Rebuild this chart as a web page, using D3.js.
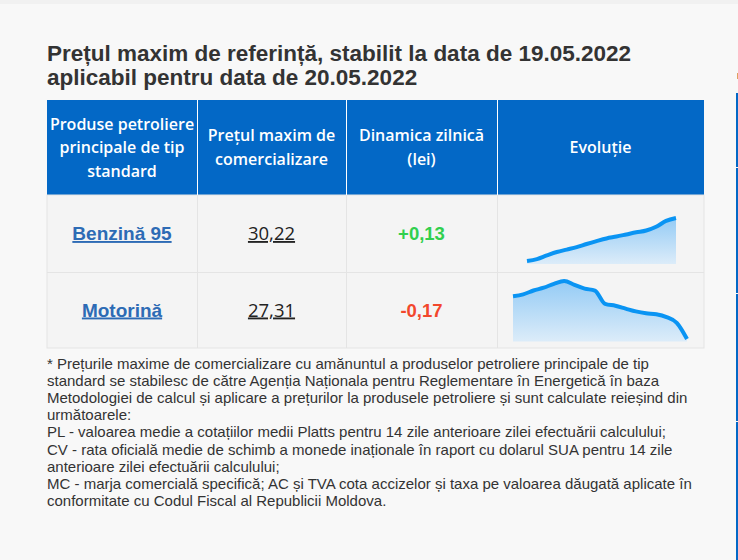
<!DOCTYPE html>
<html>
<head>
<meta charset="utf-8">
<script src="https://cdn.jsdelivr.net/npm/d3@7"></script>
<style>
  html, body { margin: 0; padding: 0; background: #f8f8f8; }
  svg { display: block; }
</style>
</head>
<body>
<svg id="chart" width="738" height="560"></svg>
<script>
// ---------- data ----------
const titleLines = [
  "Prețul maxim de referință, stabilit la data de 19.05.2022",
  "aplicabil pentru data de 20.05.2022"
];
const headers = [
  ["Produse petroliere", "principale de tip", "standard"],
  ["Prețul maxim de", "comercializare"],
  ["Dinamica zilnică", "(lei)"],
  ["Evoluție"]
];
const categories = ["Benzină 95", "Motorină"];
const prices = ["30,22", "27,31"];
const changes = ["+0,13", "-0,17"];
const benzinaSeries = [28.60, 28.67, 28.81, 28.94, 29.03, 29.12, 29.24, 29.35, 29.45, 29.52, 29.60, 29.68, 29.75, 29.89, 30.11, 30.22];
const motorinaSeries = [27.76, 27.78, 27.82, 27.85, 27.89, 27.92, 27.88, 27.84, 27.82, 27.68, 27.66, 27.63, 27.60, 27.58, 27.57, 27.54, 27.48, 27.31];
const footnoteLines = [
  "* Prețurile maxime de comercializare cu amănuntul a produselor petroliere principale de tip",
  "standard se stabilesc de către Agenția Naționala pentru Reglementare în Energetică în baza",
  "Metodologiei de calcul și aplicare a prețurilor la produsele petroliere și sunt calculate reieșind din",
  "următoarele:",
  "PL - valoarea medie a cotațiilor medii Platts pentru 14 zile anterioare zilei efectuării calculului;",
  "CV - rata oficială medie de schimb a monede inaționale în raport cu dolarul SUA pentru 14 zile",
  "anterioare zilei efectuării calculului;",
  "MC - marja comercială specifică; AC și TVA cota accizelor și taxa pe valoarea dăugată aplicate în",
  "conformitate cu Codul Fiscal al Republicii Moldova."
];

// ---------- layout ----------
const svg = d3.select("#chart");
const W = 738, H = 560;
const colEdges = [47, 197, 346, 497, 704];
const headTop = 100, headBottom = 195;
const rowEdges = [195, 272, 348];

svg.append("rect").attr("width", W).attr("height", H).attr("fill", "#f8f8f8");
svg.append("rect").attr("width", W).attr("height", 4).attr("fill", "#f1f1f1");

// right-hand blue strip (neighbouring panel)
const stripSegs = [[93, 167], [168, 293], [294, 421], [422, 560]];
svg.selectAll("rect.strip").data(stripSegs).enter().append("rect")
  .attr("x", 736).attr("width", 2)
  .attr("y", d => d[0]).attr("height", d => d[1] - d[0])
  .attr("fill", "#0368c6");
svg.append("rect").attr("x", 737).attr("y", 73).attr("width", 1).attr("height", 6).attr("fill", "#e0a060");

// title
svg.append("g").selectAll("text").data(titleLines).enter().append("text")
  .attr("x", 47).attr("y", (d, i) => 60.5 + i * 24)
  .attr("font-family", "'Liberation Sans Narrow', 'Arial Narrow', 'Liberation Sans', Arial, sans-serif")
  .attr("font-weight", "bold").attr("font-size", 22.5).attr("fill", "#333")
  .text(d => d);

// header
svg.append("rect").attr("x", colEdges[0]).attr("y", headTop)
  .attr("width", colEdges[4] - colEdges[0]).attr("height", headBottom - headTop)
  .attr("fill", "#0368c6");

// body background
svg.append("rect").attr("x", colEdges[0]).attr("y", rowEdges[0])
  .attr("width", colEdges[4] - colEdges[0]).attr("height", rowEdges[2] - rowEdges[0])
  .attr("fill", "#f4f4f4").attr("stroke", "#e4e4e4").attr("stroke-width", 1);

// row lines
svg.append("line").attr("x1", colEdges[0]).attr("x2", colEdges[4])
  .attr("y1", rowEdges[1] + 0.5).attr("y2", rowEdges[1] + 0.5).attr("stroke", "#e4e4e4");

// column separators
colEdges.slice(1, 4).forEach(x => {
  svg.append("line").attr("x1", x + 0.5).attr("x2", x + 0.5)
    .attr("y1", headTop).attr("y2", headBottom).attr("stroke", "#ffffff");
  svg.append("line").attr("x1", x + 0.5).attr("x2", x + 0.5)
    .attr("y1", headBottom).attr("y2", rowEdges[2]).attr("stroke", "#e4e4e4");
});

// header text
const headMid = (headTop + headBottom) / 2;
headers.forEach((lines, ci) => {
  const cx = (colEdges[ci] + colEdges[ci + 1]) / 2;
  const lh = 23.5;
  const start = headMid - (lines.length - 1) * lh / 2;
  svg.append("g").selectAll("text").data(lines).enter().append("text")
    .attr("x", cx).attr("y", (d, i) => start + i * lh + 5.5)
    .attr("text-anchor", "middle")
    .attr("font-family", "'Open Sans', sans-serif")
    .attr("font-weight", 600).attr("font-size", 16).attr("fill", "#ffffff")
    .text(d => d);
});

// body text
categories.forEach((c, ri) => {
  const cy = (rowEdges[ri] + rowEdges[ri + 1]) / 2 + 6.5;
  const cx = i => (colEdges[i] + colEdges[i + 1]) / 2;
  svg.append("text").attr("x", cx(0)).attr("y", cy).attr("text-anchor", "middle")
    .attr("font-family", "'Liberation Sans', Arial, sans-serif").attr("font-weight", "bold")
    .attr("font-size", 19).attr("fill", "#2d6bb5").attr("text-decoration", "underline")
    .text(c);
  svg.append("text").attr("x", cx(1)).attr("y", cy).attr("text-anchor", "middle")
    .attr("font-family", "'Open Sans', sans-serif")
    .attr("font-size", 18.5).attr("fill", "#222").attr("text-decoration", "underline")
    .text(prices[ri]);
  svg.append("text").attr("x", cx(2)).attr("y", cy).attr("text-anchor", "middle")
    .attr("font-family", "'Liberation Sans', Arial, sans-serif").attr("font-weight", "bold")
    .attr("font-size", 18.5).attr("fill", changes[ri].startsWith("+") ? "#30cf4e" : "#f2472c")
    .text(changes[ri]);
});

// sparklines
const defs = svg.append("defs");
const grad = defs.append("linearGradient").attr("id", "sparkFill")
  .attr("x1", 0).attr("y1", 0).attr("x2", 0).attr("y2", 1);
grad.append("stop").attr("offset", "0%").attr("stop-color", "#94cbf5");
grad.append("stop").attr("offset", "100%").attr("stop-color", "#dcecf9");

const sparks = [
  { data: benzinaSeries, x0: 527, x1: 676, yTop: 218, yBot: 261, base: 264 },
  { data: motorinaSeries, x0: 513, x1: 687, yTop: 281, yBot: 339, base: 341.5 }
];
sparks.forEach(s => {
  const x = d3.scaleLinear().domain([0, s.data.length - 1]).range([s.x0, s.x1]);
  const y = d3.scaleLinear().domain(d3.extent(s.data)).range([s.yBot, s.yTop]);
  const area = d3.area().x((d, i) => x(i)).y0(s.base).y1(d => y(d)).curve(d3.curveMonotoneX);
  const line = d3.line().x((d, i) => x(i)).y(d => y(d)).curve(d3.curveMonotoneX);
  svg.append("path").datum(s.data).attr("d", area).attr("fill", "url(#sparkFill)");
  svg.append("path").datum(s.data).attr("d", line).attr("fill", "none")
    .attr("stroke", "#0a94f3").attr("stroke-width", 4)
    .attr("stroke-linejoin", "round").attr("stroke-linecap", "butt");
});

// footnote
svg.append("g").selectAll("text").data(footnoteLines).enter().append("text")
  .attr("x", 47).attr("y", (d, i) => 369 + i * 17.1)
  .attr("font-family", "'Liberation Sans', Arial, sans-serif")
  .attr("font-size", 15).attr("fill", "#333")
  .text(d => d);
</script>
</body>
</html>
